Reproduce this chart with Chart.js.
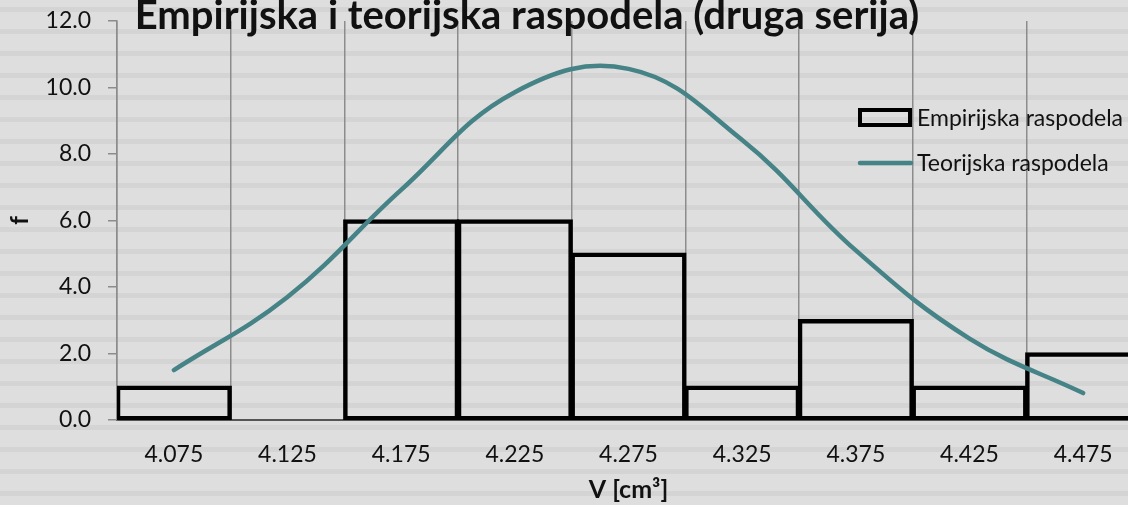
<!DOCTYPE html>
<html>
<head>
<meta charset="utf-8">
<script src="https://cdn.jsdelivr.net/npm/chart.js@4"></script>
<style>
    html, body { margin: 0; padding: 0; overflow: hidden; background: #dedede; }
    #wrap { position: absolute; left: 0; top: 0; width: 1150px; height: 505px; }
</style>
</head>
<body>
<div id="wrap"><canvas id="rasChart"></canvas></div>
<script>
// podaci
const categories = ['4.075', '4.125', '4.175', '4.225', '4.275', '4.325', '4.375', '4.425', '4.475'];
const empirijska = [1, 0, 6, 6, 5, 1, 3, 1, 2];
const teorijska = [1.5, 3.7, 6.92, 9.86, 10.56, 8.42, 5.1, 2.45, 0.81];
const yTicks = [0, 2, 4, 6, 8, 10, 12];

const chartTitle = 'Empirijska i teorijska raspodela (druga serija)';
const seriesNames = ['Empirijska raspodela', 'Teorijska raspodela'];

const FONT = 'Lato';
const TEAL = '#458387';

// pozadina sa prugama (kao u Excelu)
const stripes = {
    id: 'stripes',
    beforeDraw(chart) {
        const ctx = chart.ctx;
        ctx.save();
        ctx.fillStyle = '#dedede';
        ctx.fillRect(0, 0, chart.width, chart.height);
        ctx.fillStyle = '#d4d4d4';
        for (let y = 7; y < chart.height; y += 22) {
            ctx.fillRect(0, y, chart.width, 5);
        }
        ctx.restore();
    }
};

// naslov i legenda crtani rucno (preklapaju oblast grafika)
const overlay = {
    id: 'overlay',
    afterDraw(chart) {
        const ctx = chart.ctx;
        const area = chart.chartArea;
        ctx.save();
        ctx.fillStyle = '#111';
        ctx.font = 'bold 40px ' + FONT;
        ctx.textAlign = 'center';
        ctx.textBaseline = 'alphabetic';
        ctx.fillText(chartTitle, area.left + 410, 29);

        // legenda
        ctx.strokeStyle = '#000';
        ctx.lineWidth = 4;
        ctx.strokeRect(860, 110, 50, 15);
        ctx.beginPath();
        ctx.strokeStyle = TEAL;
        ctx.lineWidth = 4.5;
        ctx.lineCap = 'round';
        ctx.moveTo(860, 163);
        ctx.lineTo(911, 163);
        ctx.stroke();

        ctx.font = '23px ' + FONT;
        ctx.textAlign = 'left';
        ctx.textBaseline = 'middle';
        ctx.fillStyle = '#111';
        ctx.fillText(seriesNames[0], 917, 119);
        ctx.fillText(seriesNames[1], 917, 164);
        ctx.restore();
    }
};

new Chart(document.getElementById('rasChart'), {
    data: {
        labels: categories,
        datasets: [{
            type: 'line',
            label: seriesNames[1],
            data: teorijska,
            borderColor: TEAL,
            borderWidth: 4.5,
            borderCapStyle: 'round',
            pointRadius: 0,
            tension: 0.4,
            order: 0
        }, {
            type: 'bar',
            label: seriesNames[0],
            data: empirijska,
            backgroundColor: 'rgba(0,0,0,0)',
            borderColor: '#000',
            borderWidth: 2,
            inflateAmount: 1.25,
            borderSkipped: false,
            categoryPercentage: 1,
            barPercentage: 1,
            order: 1
        }]
    },
    options: {
        responsive: true,
        maintainAspectRatio: false,
        animation: false,
        layout: { padding: { top: 21, right: 10, left: 0, bottom: 0 } },
        plugins: {
            legend: { display: false },
            title: { display: false },
            tooltip: { enabled: false }
        },
        scales: {
            x: {
                offset: true,
                grid: { offset: true, color: '#8c8c8c', lineWidth: 1.5, drawTicks: false },
                border: { color: '#555', width: 2 },
                ticks: { color: '#111', font: { family: FONT, size: 23 }, padding: 21, maxRotation: 0 },
                title: { display: true, text: 'V [cm³]', color: '#111', font: { family: FONT, size: 25, weight: 'bold' }, padding: { top: 0, bottom: 0 } },
                afterFit(scale) { scale.height = 85; }
            },
            y: {
                min: 0,
                max: 12,
                afterBuildTicks(scale) { scale.ticks = yTicks.map(v => ({ value: v })); },
                grid: { drawOnChartArea: false, drawTicks: true, tickLength: 9, color: '#8c8c8c', lineWidth: 1.5 },
                border: { color: '#8c8c8c', width: 1.5 },
                ticks: {
                    color: '#111',
                    font: { family: FONT, size: 23 },
                    padding: 17,
                    callback: function(value) { return value.toFixed(1); }
                },
                title: { display: true, text: 'f', color: '#111', font: { family: FONT, size: 24, weight: 'bold' }, padding: { top: 6, bottom: 0 } },
                afterFit(scale) {
                    scale.width = 117;
                    scale.paddingTop = 0;
                    scale.paddingBottom = 0;
                }
            }
        }
    },
    plugins: [stripes, overlay]
});
</script>
</body>
</html>
